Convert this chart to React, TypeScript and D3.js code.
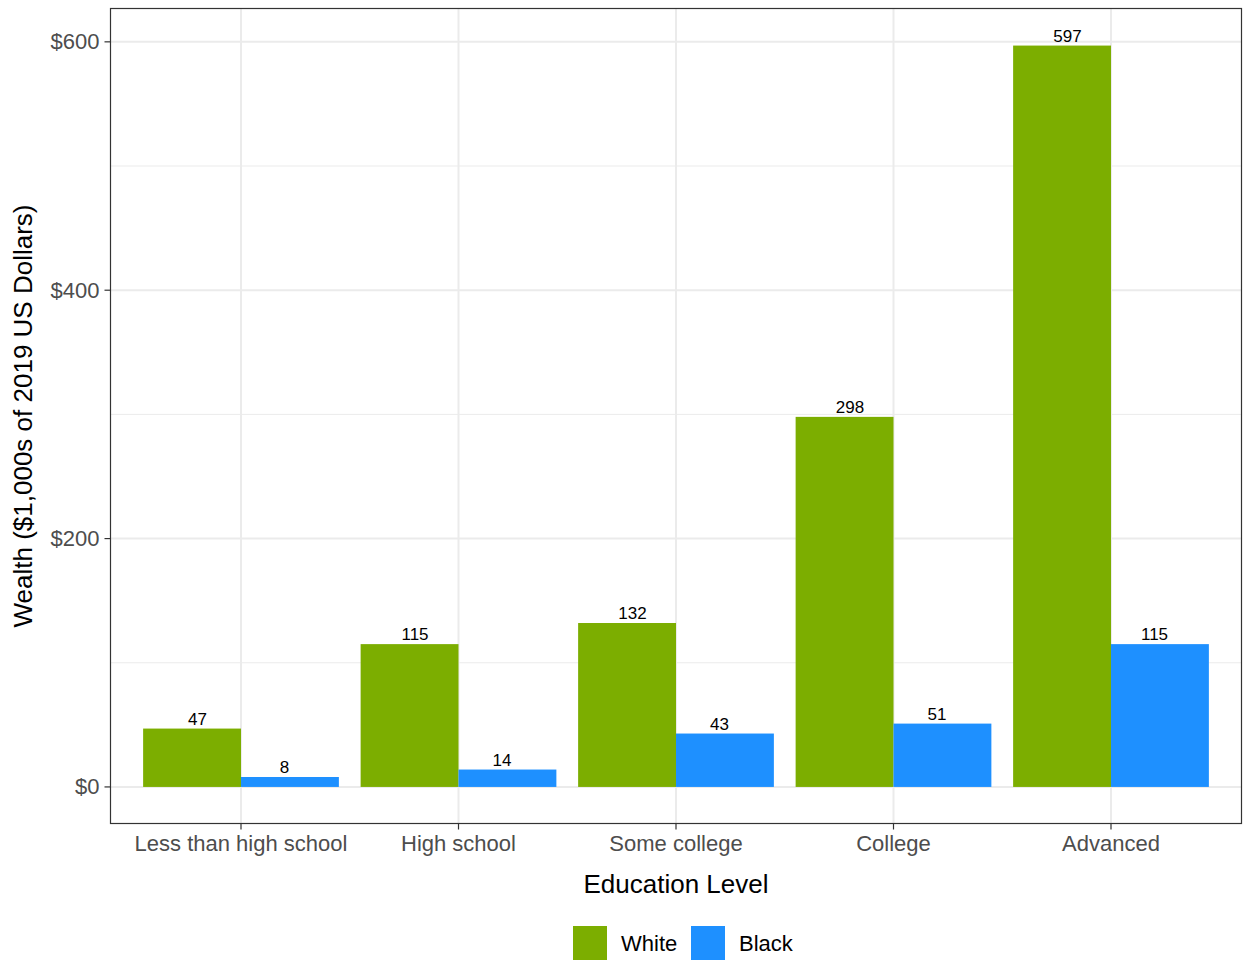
import React from "react";
import * as d3 from "d3";

const categories = ["Less than high school", "High school", "Some college", "College", "Advanced"];
const groups = ["White", "Black"];
const whiteValues = [47, 115, 132, 298, 597];
const blackValues = [8, 14, 43, 51, 115];
const yTicks = [0, 200, 400, 600];
const yMinor = [100, 300, 500];
const colors = ["#7CAE00", "#1E90FF"];

const W = 1244, H = 960;
const left = 110.5, right = 1241.5, top = 8.5, bottom = 823.5;
const FONT = "'Liberation Sans', Arial, Helvetica, sans-serif";

export default function App() {
  const maxV = d3.max([...whiteValues, ...blackValues]) as number;
  const y = d3.scaleLinear().domain([-maxV * 0.05, maxV * 1.05]).range([bottom + 0.5, top]);
  const unit = (right - left) / 5.2;
  const x = d3.scalePoint<string>().domain(categories).range([left + 0.6 * unit, right - 0.6 * unit]);
  const bw = 0.45 * unit;
  const labelOff = 0.2 * unit;
  const series = [whiteValues, blackValues];

  return (
    <svg width={W} height={H} style={{ position: "absolute", left: 0, top: 0 }} fontFamily={FONT}>
      <rect x={0} y={0} width={W} height={H} fill="white" />
      {yMinor.map((v) => (
        <line key={"mi" + v} x1={left} x2={right} y1={y(v)} y2={y(v)} stroke="#EBEBEB" strokeWidth={1} />
      ))}
      {yTicks.map((v) => (
        <line key={"ma" + v} x1={left} x2={right} y1={y(v)} y2={y(v)} stroke="#EBEBEB" strokeWidth={2} />
      ))}
      {categories.map((c) => (
        <line key={"vx" + c} x1={x(c)} x2={x(c)} y1={top} y2={bottom} stroke="#EBEBEB" strokeWidth={2} />
      ))}
      {categories.map((c, i) =>
        series.map((s, g) => {
          const x0 = (x(c) as number) - bw + g * bw;
          const lx = (x(c) as number) + (g === 0 ? -labelOff : labelOff);
          return (
            <g key={c + g}>
              <rect x={x0} y={y(s[i])} width={bw} height={y(0) - y(s[i])} fill={colors[g]} />
              <text x={lx} y={y(s[i]) - 4} textAnchor="middle" fontSize={17} fill="#000">
                {s[i]}
              </text>
            </g>
          );
        })
      )}
      <rect x={left} y={top} width={right - left} height={bottom - top} fill="none" stroke="#333333" strokeWidth={1.2} />
      {yTicks.map((v) => (
        <g key={"yt" + v}>
          <line x1={left - 6} x2={left} y1={y(v)} y2={y(v)} stroke="#333333" strokeWidth={1.2} />
          <text x={left - 11} y={y(v) + 7.5} textAnchor="end" fontSize={22} fill="#4D4D4D">
            {"$" + v}
          </text>
        </g>
      ))}
      {categories.map((c) => (
        <g key={"xt" + c}>
          <line x1={x(c)} x2={x(c)} y1={bottom} y2={bottom + 6} stroke="#333333" strokeWidth={1.2} />
          <text x={x(c)} y={bottom + 27} textAnchor="middle" fontSize={22} fill="#4D4D4D">
            {c}
          </text>
        </g>
      ))}
      <text x={(left + right) / 2} y={893} textAnchor="middle" fontSize={26} fill="#000">
        Education Level
      </text>
      <text
        transform={`translate(32,${(top + bottom) / 2}) rotate(-90)`}
        textAnchor="middle"
        fontSize={26}
        fill="#000"
      >
        Wealth ($1,000s of 2019 US Dollars)
      </text>
      {groups.map((g, i) => {
        const lx = 573 + i * 118;
        return (
          <g key={g}>
            <rect x={lx} y={926} width={34} height={34} fill={colors[i]} />
            <text x={lx + 48} y={951} fontSize={22} fill="#000">
              {g}
            </text>
          </g>
        );
      })}
    </svg>
  );
}
